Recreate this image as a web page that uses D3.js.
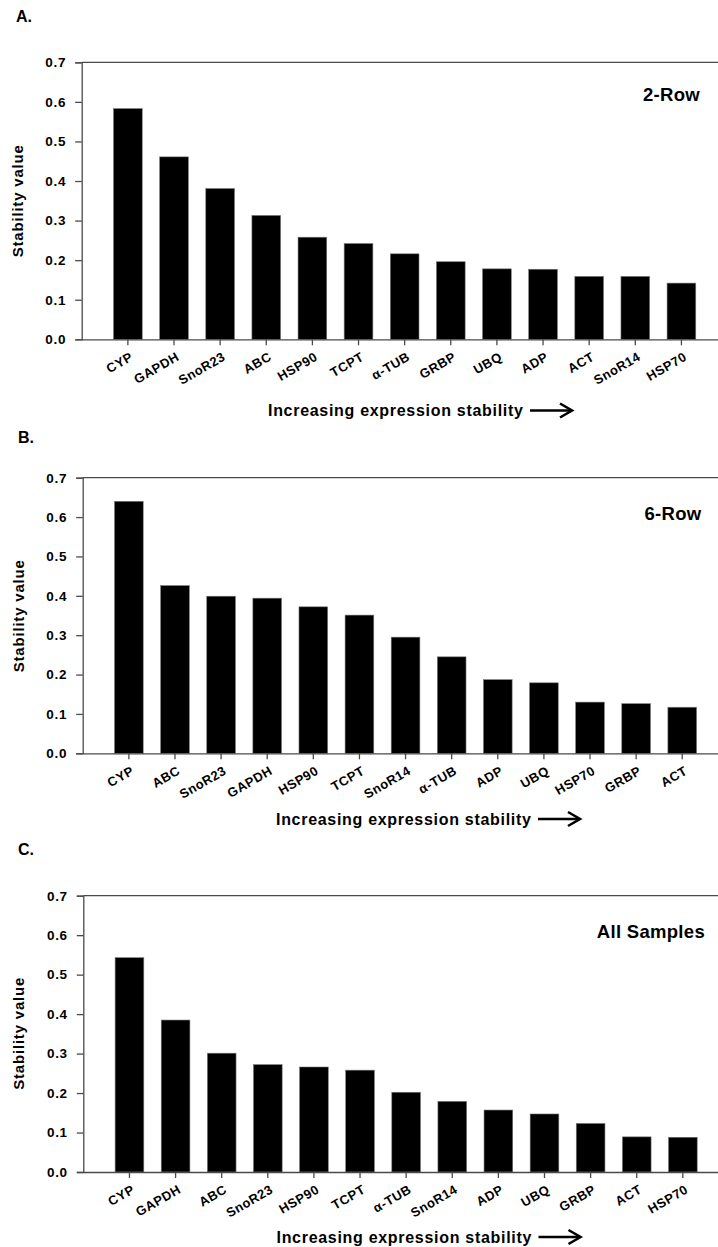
<!DOCTYPE html>
<html>
<head>
<meta charset="utf-8">
<script src="https://cdn.jsdelivr.net/npm/d3@7"></script>
<style>
  html, body { margin: 0; padding: 0; background: #fff; }
  svg { display: block; }
  text { font-family: "Liberation Sans", Arial, Helvetica, sans-serif; font-weight: bold; fill: #000; }
</style>
</head>
<body>
<svg id="chart" width="718" height="1247"></svg>
<script>
// ---- data ----
const catsA = ["CYP", "GAPDH", "SnoR23", "ABC", "HSP90", "TCPT", "α-TUB", "GRBP", "UBQ", "ADP", "ACT", "SnoR14", "HSP70"];
const valsA = [0.583, 0.461, 0.381, 0.313, 0.258, 0.242, 0.216, 0.196, 0.178, 0.177, 0.159, 0.159, 0.142];

const catsB = ["CYP", "ABC", "SnoR23", "GAPDH", "HSP90", "TCPT", "SnoR14", "α-TUB", "ADP", "UBQ", "HSP70", "GRBP", "ACT"];
const valsB = [0.640, 0.426, 0.399, 0.394, 0.372, 0.351, 0.295, 0.245, 0.187, 0.179, 0.130, 0.126, 0.117];

const catsC = ["CYP", "GAPDH", "ABC", "SnoR23", "HSP90", "TCPT", "α-TUB", "SnoR14", "ADP", "UBQ", "GRBP", "ACT", "HSP70"];
const valsC = [0.543, 0.385, 0.301, 0.272, 0.266, 0.258, 0.202, 0.179, 0.157, 0.147, 0.123, 0.089, 0.088];

const yTicks = [0.0, 0.1, 0.2, 0.3, 0.4, 0.5, 0.6, 0.7];
const yTitle = "Stability value";
const xTitle = "Increasing expression stability";
const panelLetters = ["A.", "B.", "C."];
const panelNames = ["2-Row", "6-Row", "All Samples"];

// ---- layout (positions only) ----
const layouts = [
  { left: 81.7, right: 727.6, top: 62.3, bottom: 339.3, letterX: 16, letterY: 21.7, nameX: 700, nameY: 100.7, yTitleX: 22.5, yTitleY: 200.8, xTitleX: 268, xTitleY: 416, arrowY: 410.5 },
  { left: 82.7, right: 728.4, top: 477.7, bottom: 753.3, letterX: 18, letterY: 443.3, nameX: 701.5, nameY: 520, yTitleX: 23.5, yTitleY: 615.8, xTitleX: 276, xTitleY: 824.5, arrowY: 819 },
  { left: 83.3, right: 729.0, top: 895.7, bottom: 1172, letterX: 18, letterY: 855, nameX: 705, nameY: 937.7, yTitleX: 23.5, yTitleY: 1033.3, xTitleX: 276.5, xTitleY: 1242.5, arrowY: 1237 }
];
const datasets = [[catsA, valsA], [catsB, valsB], [catsC, valsC]];

const svg = d3.select("#chart");
const axisColor = "#4a4a4a";

datasets.forEach(([cats, vals], p) => {
  const L = layouts[p];
  const g = svg.append("g");

  const x = d3.scaleBand().domain(cats).range([L.left, L.right])
    .paddingInner(0.378).paddingOuter(0.69);
  const y = d3.scaleLinear().domain([0, 0.7]).range([L.bottom, L.top]);

  // bars
  g.selectAll("rect.bar").data(cats).enter().append("rect")
    .attr("class", "bar")
    .attr("x", d => x(d))
    .attr("width", x.bandwidth())
    .attr("y", (d, i) => y(vals[i]))
    .attr("height", (d, i) => y(0) - y(vals[i]))
    .attr("fill", "#000")
    .attr("stroke", "#777")
    .attr("stroke-width", 0.6);

  // frame: top line
  g.append("line")
    .attr("x1", L.left).attr("x2", L.right)
    .attr("y1", L.top).attr("y2", L.top)
    .attr("stroke", axisColor).attr("stroke-width", 1.3);

  // y axis
  const yAxis = d3.axisLeft(y).tickValues(yTicks).tickFormat(d3.format(".1f")).tickSize(6.5).tickPadding(9);
  const ya = g.append("g").attr("transform", `translate(${L.left},0)`).call(yAxis);
  ya.select(".domain").attr("stroke", axisColor).attr("stroke-width", 1.3);
  ya.selectAll(".tick line").attr("stroke", axisColor).attr("stroke-width", 1.3);
  ya.selectAll(".tick text")
    .style("font-size", "13.5px").style("font-weight", "bold")
    .style("letter-spacing", "0.7px")
    .attr("fill", "#000");

  // x axis
  const xAxis = d3.axisBottom(x).tickSize(6).tickSizeOuter(0);
  const xa = g.append("g").attr("transform", `translate(0,${L.bottom})`).call(xAxis);
  xa.select(".domain").attr("stroke", axisColor).attr("stroke-width", 1.3);
  xa.selectAll(".tick line").attr("stroke", axisColor).attr("stroke-width", 1.3);
  xa.selectAll(".tick text")
    .style("font-size", "13px").style("font-weight", "bold")
    .style("letter-spacing", "0.5px")
    .attr("fill", "#000")
    .attr("text-anchor", "end")
    .attr("y", 0).attr("dy", "0.72em")
    .attr("transform", "translate(1.5,12) rotate(-30)");

  // panel letter
  g.append("text").attr("x", L.letterX).attr("y", L.letterY)
    .style("font-size", "16px").text(panelLetters[p]);

  // panel name
  g.append("text").attr("x", L.nameX).attr("y", L.nameY)
    .attr("text-anchor", "end")
    .style("font-size", "18.5px").style("letter-spacing", "0.3px")
    .text(panelNames[p]);

  // y title
  g.append("text")
    .attr("transform", `translate(${L.yTitleX},${L.yTitleY}) rotate(-90)`)
    .attr("text-anchor", "middle")
    .style("font-size", "15px").style("letter-spacing", "0.8px")
    .text(yTitle);

  // x title
  const xt = g.append("text").attr("x", L.xTitleX).attr("y", L.xTitleY)
    .style("font-size", "16px").style("letter-spacing", "0.7px")
    .text(xTitle);

  // arrow
  const ax0 = L.xTitleX + 262, ax1 = ax0 + 42;
  g.append("line").attr("x1", ax0).attr("x2", ax1 - 1)
    .attr("y1", L.arrowY).attr("y2", L.arrowY)
    .attr("stroke", "#000").attr("stroke-width", 2.6);
  g.append("path")
    .attr("d", `M${ax1 - 12},${L.arrowY - 7} L${ax1},${L.arrowY} L${ax1 - 12},${L.arrowY + 7}`)
    .attr("fill", "none").attr("stroke", "#000").attr("stroke-width", 2.6)
    .attr("stroke-linejoin", "miter");
});
</script>
</body>
</html>
